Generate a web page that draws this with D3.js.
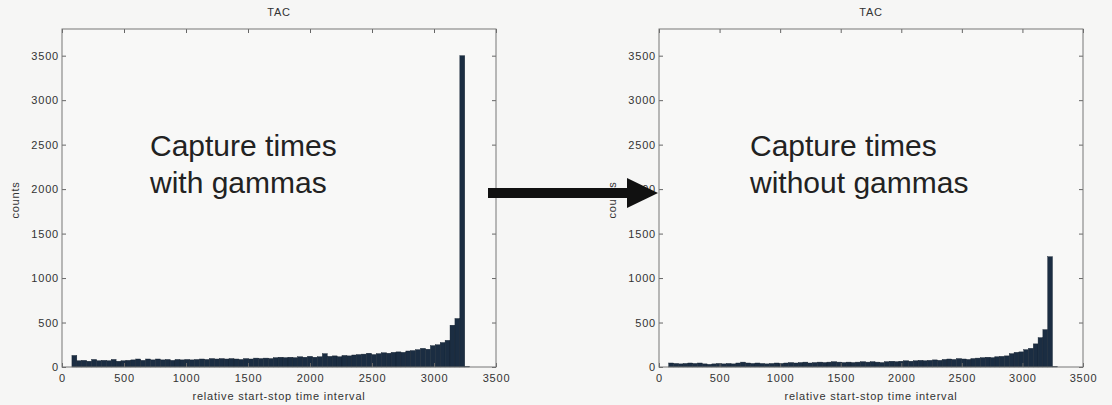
<!DOCTYPE html>
<html>
<head>
<meta charset="utf-8">
<script src="https://cdn.jsdelivr.net/npm/d3@7"></script>
<style>
    body { margin: 0; background: #f6f6f5; }
    svg { display: block; font-family: "Liberation Sans", Arial, sans-serif; }
    .tick text { fill: #333; font-size: 11px; letter-spacing: 0.8px; }
    .tick line { stroke: #666; }
    .lbl { font-size: 11px; letter-spacing: 0.8px; fill: #333; }
</style>
</head>
<body>
<svg id="chart" width="1112" height="405"></svg>
<script>
// histogram bins (shared by both panels)
const binStart = 80;
const binWidth = 39.6;

const xTicks = [0, 500, 1000, 1500, 2000, 2500, 3000, 3500];
const yTicks = [0, 500, 1000, 1500, 2000, 2500, 3000, 3500];

// counts per bin, with gammas
const countsWith = [
    130, 70, 75, 65, 85, 70, 75, 70, 85, 65,
    70, 75, 80, 90, 75, 90, 80, 90, 80, 85,
    75, 85, 80, 85, 80, 85, 90, 85, 95, 90,
    95, 90, 95, 90, 85, 95, 90, 100, 95, 100,
    95, 105, 110, 105, 110, 105, 115, 110, 120, 110,
    115, 150, 120, 125, 115, 130, 125, 135, 140, 145,
    155, 140, 150, 160, 155, 165, 170, 165, 180, 185,
    195, 210, 200, 240, 250, 275, 300, 470, 545, 3500,
    5
];

// counts per bin, without gammas
const countsWithout = [
    45, 40, 35, 40, 45, 40, 45, 35, 30, 35,
    40, 35, 40, 35, 45, 55, 45, 40, 45, 40,
    35, 40, 45, 40, 45, 50, 45, 50, 55, 45,
    50, 55, 50, 55, 60, 55, 50, 55, 50, 55,
    60, 55, 60, 55, 50, 60, 65, 60, 65, 70,
    65, 70, 75, 70, 75, 80, 75, 85, 90, 85,
    95, 90, 85, 95, 100, 105, 110, 105, 115, 120,
    125, 150, 165, 170, 195, 210, 260, 330, 420, 1240,
    5
];

const panels = [
    { counts: countsWith, left: 62, right: 496, note: ["Capture times", "with gammas"], noteX: 150 },
    { counts: countsWithout, left: 659, right: 1083, note: ["Capture times", "without gammas"], noteX: 750 }
];

const plotTop = 29, plotBottom = 367;
const svg = d3.select("#chart");
const fmt = d3.format("d");

function buildPanel(p) {
    let g = svg.append("g");
    let x = d3.scaleLinear().domain([0, 3500]).range([p.left, p.right]);
    let y = d3.scaleLinear().domain([0, 3800]).range([plotBottom, plotTop]);

    g.append("rect")
        .attr("x", p.left).attr("y", plotTop)
        .attr("width", p.right - p.left).attr("height", plotBottom - plotTop)
        .attr("fill", "#f8f8f7");

    // bars
    g.append("g").selectAll("rect")
        .data(p.counts)
        .join("rect")
        .attr("x", (d, i) => x(binStart + i * binWidth))
        .attr("width", (d, i) => x(binStart + (i + 1) * binWidth) - x(binStart + i * binWidth))
        .attr("y", d => y(d))
        .attr("height", d => plotBottom - y(d))
        .attr("fill", "#1b2d42")
        .attr("stroke", "#13202f")
        .attr("stroke-width", 0.4);

    // axes, ticks pointing inward
    g.append("g").attr("transform", `translate(0,${plotBottom})`)
        .call(d3.axisBottom(x).tickValues(xTicks).tickFormat(fmt).tickSizeInner(-4).tickSizeOuter(0).tickPadding(7))
        .call(a => a.select(".domain").remove());
    g.append("g").attr("transform", `translate(0,${plotTop})`)
        .call(d3.axisTop(x).tickValues(xTicks).tickSizeInner(-4).tickSizeOuter(0).tickFormat(""))
        .call(a => a.select(".domain").remove());
    g.append("g").attr("transform", `translate(${p.left},0)`)
        .call(d3.axisLeft(y).tickValues(yTicks).tickFormat(fmt).tickSizeInner(-4).tickSizeOuter(0).tickPadding(3))
        .call(a => a.select(".domain").remove());
    g.append("g").attr("transform", `translate(${p.right},0)`)
        .call(d3.axisRight(y).tickValues(yTicks).tickSizeInner(-4).tickSizeOuter(0).tickFormat(""))
        .call(a => a.select(".domain").remove());

    g.append("rect")
        .attr("x", p.left).attr("y", plotTop)
        .attr("width", p.right - p.left).attr("height", plotBottom - plotTop)
        .attr("fill", "none").attr("stroke", "#777").attr("stroke-width", 1);

    // titles
    g.append("text").attr("class", "lbl")
        .attr("x", (p.left + p.right) / 2).attr("y", 16)
        .attr("text-anchor", "middle")
        .text("TAC");
    g.append("text").attr("class", "lbl")
        .attr("x", (p.left + p.right) / 2).attr("y", 400)
        .attr("text-anchor", "middle")
        .text("relative start-stop time interval");
    g.append("text").attr("class", "lbl")
        .attr("transform", `translate(${p.left - 43},200) rotate(-90)`)
        .attr("text-anchor", "middle")
        .text("counts");

    // annotation
    g.append("text")
        .attr("x", p.noteX).attr("y", 156)
        .attr("font-size", 30).attr("fill", "#222")
        .selectAll("tspan")
        .data(p.note)
        .join("tspan")
        .attr("x", p.noteX)
        .attr("dy", (d, i) => i ? 37 : 0)
        .text(d => d);
}

panels.forEach(buildPanel);

// arrow between the panels
svg.append("rect")
    .attr("x", 488).attr("y", 188).attr("width", 142).attr("height", 10)
    .attr("fill", "#111");
svg.append("path")
    .attr("d", "M627,178 L658,193 L627,208 Z")
    .attr("fill", "#111");
</script>
</body>
</html>
